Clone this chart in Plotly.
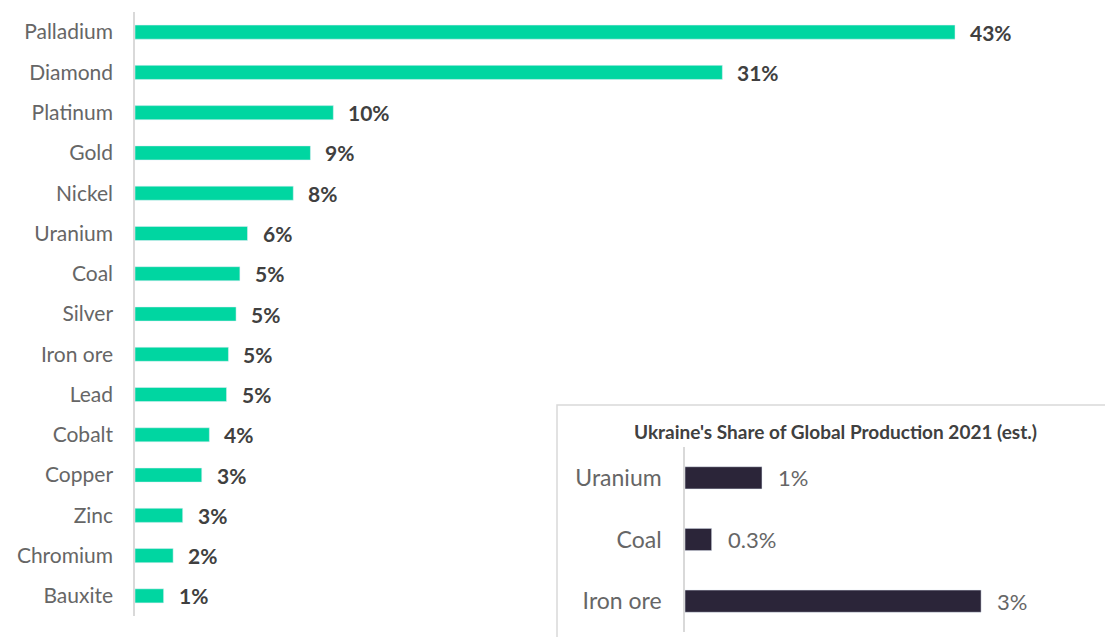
import plotly.graph_objects as go

# Main chart data (top to bottom)
minerals = ["Palladium", "Diamond", "Platinum", "Gold", "Nickel", "Uranium", "Coal",
            "Silver", "Iron ore", "Lead", "Cobalt", "Copper", "Zinc", "Chromium", "Bauxite"]
shares = [43.0, 30.8, 10.4, 9.2, 8.3, 5.9, 5.5, 5.3, 4.9, 4.8, 3.9, 3.5, 2.5, 2.0, 1.5]
share_labels = ["43%", "31%", "10%", "9%", "8%", "6%", "5%", "5%", "5%", "5%",
                "4%", "3%", "3%", "2%", "1%"]

# Inset data (Ukraine)
ua_minerals = ["Uranium", "Coal", "Iron ore"]
ua_shares = [0.78, 0.27, 3.0]
ua_labels = ["1%", "0.3%", "3%"]
inset_title = "Ukraine's Share of Global Production 2021 (est.)"

W, H = 1105, 637
GREEN = "#00D6A1"
DARK = "#2B2539"
FONT = "Lato"
LABEL = "#666666"

fig = go.Figure()

fig.add_trace(go.Bar(
    x=shares, y=minerals, orientation="h", marker_color=GREEN,
    width=0.35, xaxis="x", yaxis="y", hoverinfo="x+y",
))
fig.add_trace(go.Bar(
    x=ua_shares, y=ua_minerals, orientation="h", marker_color=DARK,
    width=0.36, xaxis="x2", yaxis="y2", hoverinfo="x+y",
))

annotations = []
for m, v, t in zip(minerals, shares, share_labels):
    annotations.append(dict(x=v, y=m, xref="x", yref="y", text=t, showarrow=False,
                            xanchor="left", xshift=13,
                            font=dict(family=FONT, size=21, color="#404040", weight="bold")))
for m, v, t in zip(ua_minerals, ua_shares, ua_labels):
    annotations.append(dict(x=v, y=m, xref="x2", yref="y2", text=t, showarrow=False,
                            xanchor="left", xshift=14,
                            font=dict(family=FONT, size=22, color=LABEL)))
annotations.append(dict(x=835 / W, y=1 - 431 / H, xref="paper", yref="paper",
                        text=inset_title, showarrow=False, xanchor="center", yanchor="middle",
                        font=dict(family=FONT, size=19, color="#404040", weight="bold")))

fig.update_layout(
    width=W, height=H,
    margin=dict(l=0, r=0, t=0, b=0),
    paper_bgcolor="white", plot_bgcolor="white",
    showlegend=False,
    font=dict(family=FONT, color=LABEL),
    annotations=annotations,
    shapes=[dict(type="rect", xref="paper", yref="paper",
                 x0=557 / W, x1=1.01, y0=-0.02, y1=1 - 405 / H,
                 line=dict(color="#D9D9D9", width=1.5), fillcolor="rgba(0,0,0,0)", layer="below")],
    xaxis=dict(domain=[135 / W, 1.0], range=[0, (W - 135) / 19.07],
               visible=False, fixedrange=True),
    yaxis=dict(domain=[(H - 616) / H, (H - 12) / H], range=[14.5, -0.5],
               categoryorder="array", categoryarray=minerals,
               showline=True, linecolor="#D9D9D9", linewidth=1.5,
               showgrid=False, ticks="", ticklabelstandoff=16,
               tickfont=dict(family=FONT, size=21, color=LABEL)),
    xaxis2=dict(domain=[685 / W, (685 + 3.6 * 98.7) / W], range=[0, 3.6],
                visible=False, anchor="y2"),
    yaxis2=dict(domain=[(H - 632) / H, (H - 447) / H], range=[2.5, -0.5],
                anchor="x2", categoryorder="array", categoryarray=ua_minerals,
                showline=True, linecolor="#D9D9D9", linewidth=1.5,
                showgrid=False, ticks="", ticklabelstandoff=17,
                tickfont=dict(family=FONT, size=23, color=LABEL)),
)

fig.write_html("out.html", config={"displayModeBar": False},
               post_script="document.body.style.margin='0';")
